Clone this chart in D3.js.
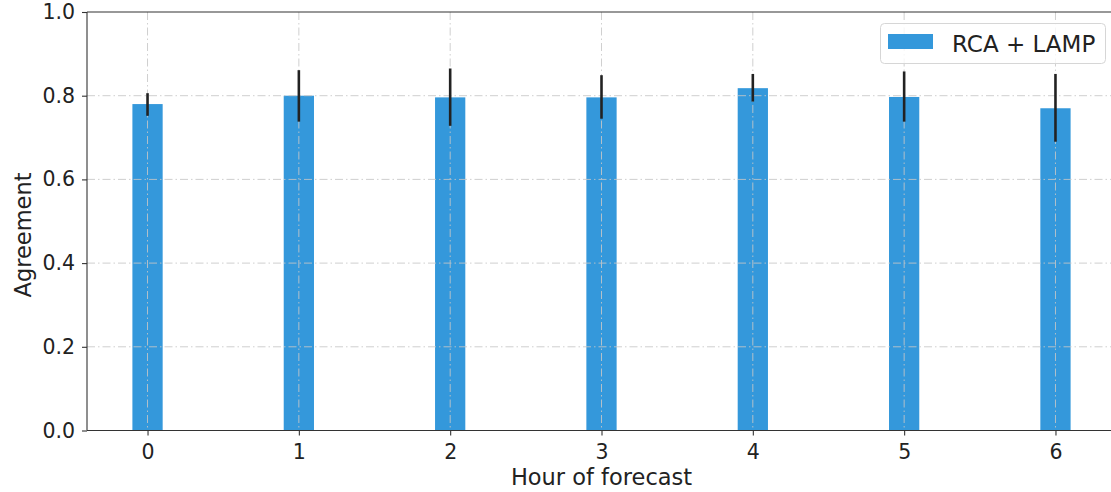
<!DOCTYPE html>
<html>
<head>
  <meta charset="UTF-8">
  <script src="https://d3js.org/d3.v7.min.js"></script>
  <style>
    * { margin: 0; padding: 0; }
    body { background: #fff; font-family: "DejaVu Sans", sans-serif; }
    svg { display: block; }
  </style>
</head>
<body>
  <div id="chart"></div>
  <script>
    // data
    const hours = [0, 1, 2, 3, 4, 5, 6];
    const agreement = [0.780, 0.800, 0.796, 0.796, 0.818, 0.797, 0.770];
    const errLow = [0.752, 0.738, 0.728, 0.745, 0.786, 0.738, 0.690];
    const errHigh = [0.806, 0.861, 0.865, 0.849, 0.852, 0.858, 0.852];
    const yTicks = [0, 0.2, 0.4, 0.6, 0.8, 1.0];
    const seriesName = "RCA + LAMP";

    const W = 1111, H = 492;
    const pL = 87, pT = 12, pB = 430.5, pR = 1116;
    const barColor = "#3498db";

    const svg = d3.select("#chart").append("svg")
      .attr("width", W).attr("height", H);

    const x = d3.scaleLinear().domain([-0.4, 6.4]).range([pL, pR]);
    const y = d3.scaleLinear().domain([0, 1]).range([pB, pT]);
    const barW = x(0.2) - x(0);

    const data = hours.map((h, i) => ({ h, v: agreement[i], lo: errLow[i], hi: errHigh[i] }));

    // bars
    svg.selectAll(".bar").data(data).enter().append("rect")
      .attr("x", d => x(d.h) - barW / 2)
      .attr("y", d => y(d.v))
      .attr("width", barW)
      .attr("height", d => y(0) - y(d.v))
      .attr("fill", barColor);

    // grid (dash-dot, on top of bars)
    const grid = svg.append("g").attr("stroke", "#c8c8c8").attr("stroke-width", 1)
      .attr("stroke-dasharray", "8,3,1.5,3").attr("opacity", 0.85);
    grid.selectAll(".gy").data(yTicks.slice(1, -1)).enter().append("line")
      .attr("x1", pL).attr("x2", pR)
      .attr("y1", d => y(d)).attr("y2", d => y(d));
    grid.selectAll(".gx").data(hours).enter().append("line")
      .attr("x1", d => x(d)).attr("x2", d => x(d))
      .attr("y1", pT).attr("y2", pB);

    // error bars
    svg.selectAll(".err").data(data).enter().append("line")
      .attr("x1", d => x(d.h)).attr("x2", d => x(d.h))
      .attr("y1", d => y(d.lo)).attr("y2", d => y(d.hi))
      .attr("stroke", "#222").attr("stroke-width", 2.6);

    // spines
    const spine = svg.append("g").attr("stroke", "#333").attr("stroke-width", 1.1);
    spine.append("line").attr("x1", pL).attr("x2", pL).attr("y1", pT).attr("y2", pB);
    spine.append("line").attr("x1", pL).attr("x2", pR).attr("y1", pB).attr("y2", pB);
    spine.append("line").attr("x1", pL).attr("x2", pR).attr("y1", pT).attr("y2", pT);

    // axes
    const yAxis = svg.append("g").attr("transform", `translate(${pL},0)`)
      .call(d3.axisLeft(y).tickValues(yTicks).tickFormat(d3.format(".1f")).tickSize(5).tickPadding(7));
    const xAxis = svg.append("g").attr("transform", `translate(0,${pB})`)
      .call(d3.axisBottom(x).tickValues(hours).tickFormat(d3.format("d")).tickSize(5).tickPadding(9));
    [xAxis, yAxis].forEach(a => {
      a.select(".domain").remove();
      a.selectAll(".tick line").attr("stroke", "#333").attr("stroke-width", 1.1);
      a.selectAll(".tick text").attr("fill", "#222")
        .style("font-family", "'DejaVu Sans', sans-serif").style("font-size", "20.5px");
    });

    // axis labels
    svg.append("text")
      .attr("x", (pL + pR) / 2).attr("y", 485)
      .attr("text-anchor", "middle")
      .style("font-size", "22.5px").attr("fill", "#222")
      .text("Hour of forecast");
    svg.append("text")
      .attr("transform", "translate(31,235) rotate(-90)")
      .attr("text-anchor", "middle")
      .style("font-size", "22.5px").attr("fill", "#222")
      .text("Agreement");

    // legend
    const lg = svg.append("g");
    lg.append("rect").attr("x", 880.5).attr("y", 23.5).attr("width", 225).attr("height", 40)
      .attr("rx", 4).attr("fill", "#fff").attr("fill-opacity", 0.8)
      .attr("stroke", "#d6d6d6").attr("stroke-width", 1);
    lg.append("rect").attr("x", 888).attr("y", 34).attr("width", 45).attr("height", 15)
      .attr("fill", barColor);
    lg.append("text").attr("x", 952).attr("y", 52)
      .style("font-size", "23px").attr("fill", "#222")
      .text(seriesName);
  </script>
</body>
</html>
